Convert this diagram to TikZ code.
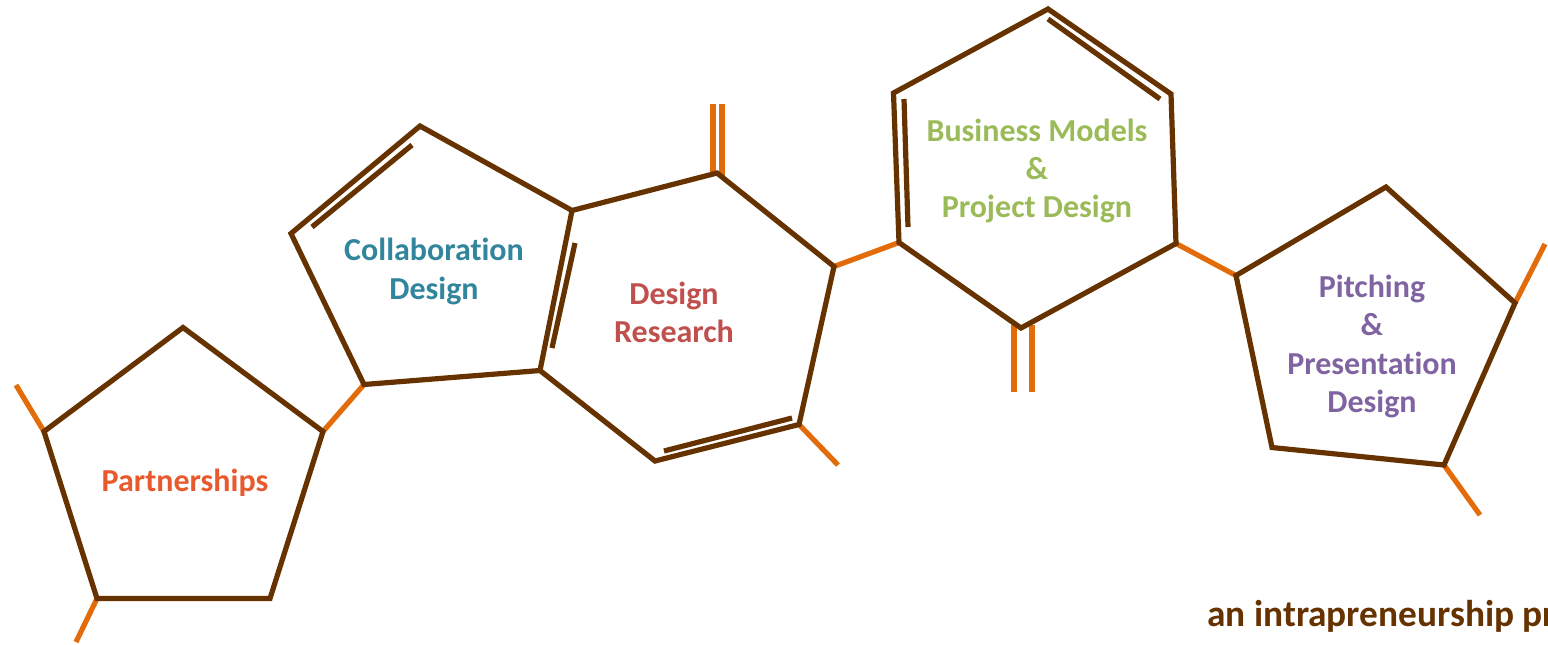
\documentclass[tikz,border=0pt]{standalone}
\usepackage{fontspec}
\setmainfont[Ligatures=NoCommon,RawFeature={-liga;-clig;-dlig}]{Carlito}
\definecolor{ringbrown}{HTML}{663300}
\definecolor{bondorange}{HTML}{E36C0A}
\definecolor{tpart}{HTML}{E8592B}
\definecolor{tcoll}{HTML}{31859C}
\definecolor{tres}{HTML}{C0504D}
\definecolor{tbus}{HTML}{9BBB59}
\definecolor{tpitch}{HTML}{8064A2}
\tikzset{
  ring/.style={draw=ringbrown,line width=3.9pt,line join=miter},
  inner bond/.style={draw=ringbrown,line width=3.9pt},
  stub/.style={draw=bondorange,line width=3.9pt},
  label text/.style={font=\bfseries\fontsize{24}{28.8}\selectfont,align=center,inner sep=0pt,anchor=center},
}
\begin{document}
\begin{tikzpicture}[x=0.75pt,y=-0.75pt]
\useasboundingbox (0,0) rectangle (1548,644);
\clip (0,0) rectangle (1548,644);
% Partnerships ring
\coordinate (p1) at (183,327.5);
\coordinate (p2) at (323,431.5);
\coordinate (p3) at (270,598.5);
\coordinate (p4) at (97,598.5);
\coordinate (p5) at (44,431.5);
\coordinate (p5e) at (16,385);
\coordinate (p4e) at (76,642);
% Collaboration ring
\coordinate (c1) at (364,384.5);
\coordinate (c2) at (291,233.5);
\coordinate (c3) at (420,126);
\coordinate (c4) at (572,210.5);
\coordinate (c5) at (540,370.5);
\coordinate (ci1) at (312,227);
\coordinate (ci2) at (412,145);
% Research ring
\coordinate (r1) at (717,173);
\coordinate (r2) at (834,266.5);
\coordinate (r3) at (799,424.5);
\coordinate (r4) at (655,461);
\coordinate (ri1) at (575,243);
\coordinate (ri2) at (552,348);
\coordinate (ri3) at (792,418);
\coordinate (ri4) at (664,451);
\coordinate (r3e) at (838,465);
\coordinate (rd1a) at (713,104);
\coordinate (rd1b) at (713,173);
\coordinate (rd2a) at (722,104);
\coordinate (rd2b) at (722,176);
% Business ring
\coordinate (b1) at (899,242.5);
\coordinate (b2) at (893.5,93);
\coordinate (b3) at (1048,9);
\coordinate (b4) at (1171,94);
\coordinate (b5) at (1176,243.5);
\coordinate (b6) at (1021,328);
\coordinate (bi1) at (904,99);
\coordinate (bi2) at (908,227);
\coordinate (bi3) at (1048,19);
\coordinate (bi4) at (1160,99);
\coordinate (bd1a) at (1014,325);
\coordinate (bd1b) at (1014,391.5);
\coordinate (bd2a) at (1032,325);
\coordinate (bd2b) at (1032,391.5);
% Pitching ring
\coordinate (g1) at (1236,275.5);
\coordinate (g2) at (1386,187);
\coordinate (g3) at (1515,303);
\coordinate (g4) at (1444,465);
\coordinate (g5) at (1272,447.5);
\coordinate (g3e) at (1545,244);
\coordinate (g4e) at (1480,515);
% orange bonds
\draw[stub] (p5) -- (p5e);
\draw[stub] (p4) -- (p4e);
\draw[stub] (p2) -- (c1);
\draw[stub] (r3) -- (r3e);
\draw[stub] (rd1b) -- (rd1a);
\draw[stub] (rd2b) -- (rd2a);
\draw[stub] (r2) -- (b1);
\draw[stub] (bd1a) -- (bd1b);
\draw[stub] (bd2a) -- (bd2b);
\draw[stub] (b5) -- (g1);
\draw[stub] (g3) -- (g3e);
\draw[stub] (g4) -- (g4e);
% rings
\draw[ring] (p1) -- (p2) -- (p3) -- (p4) -- (p5) -- cycle;
\draw[ring] (c1) -- (c2) -- (c3) -- (c4) -- (c5) -- cycle;
\draw[ring] (c4) -- (r1) -- (r2) -- (r3) -- (r4) -- (c5);
\draw[ring] (b1) -- (b2) -- (b3) -- (b4) -- (b5) -- (b6) -- cycle;
\draw[ring] (g1) -- (g2) -- (g3) -- (g4) -- (g5) -- cycle;
% inner bonds
\draw[inner bond] (ci1) -- (ci2);
\draw[inner bond] (ri1) -- (ri2);
\draw[inner bond] (ri3) -- (ri4);
\draw[inner bond] (bi1) -- (bi2);
\draw[inner bond] (bi3) -- (bi4);
% labels
\node[label text,text=tpart] (tp) at (185,483) {Partnerships};
\node[label text,text=tcoll] (tc) at (434,271.5) {Collaboration\\Design};
\node[label text,text=tres] (tr) at (674,312.5) {Design\\Research};
\node[label text,text=tbus] (tb) at (1037,171) {Business Models\\\&\\Project Design};
\node[label text,text=tpitch] (tg) at (1372,346.5) {Pitching\\\&\\Presentation\\Design};
\node[font=\bfseries\fontsize{28}{34}\selectfont,text=ringbrown,anchor=base west,inner sep=0pt] (tf) at (1207,626) {an intrapreneurship pr};
\end{tikzpicture}
\end{document}
